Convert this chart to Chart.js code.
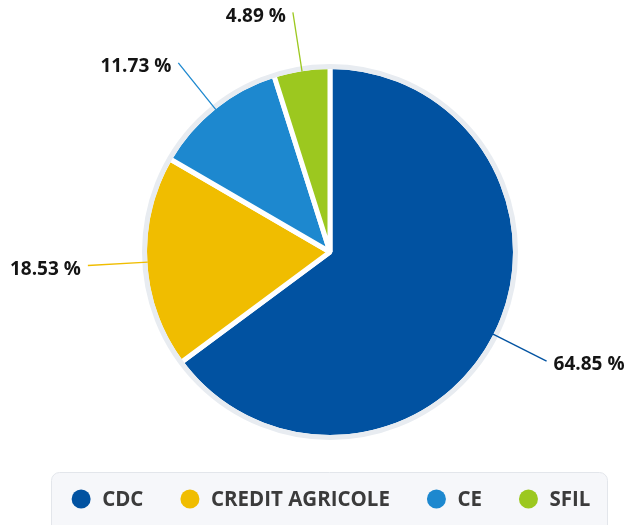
<!DOCTYPE html>
<html>
<head>
<meta charset="utf-8">
<script src="https://cdn.jsdelivr.net/npm/chart.js@4.4.1/dist/chart.umd.min.js"></script>
<style>
  html, body { margin: 0; padding: 0; background: #ffffff; }
  #wrap { width: 633px; height: 525px; position: relative; }
</style>
</head>
<body>
<div id="wrap"><canvas id="c" width="633" height="525"></canvas></div>
<script>
const categories = ['CDC', 'CREDIT AGRICOLE', 'CE', 'SFIL'];
const shares = [64.85, 18.53, 11.73, 4.89];
const shareLabels = ['64.85 %', '18.53 %', '11.73 %', '4.89 %'];
const sliceColors = ['#0152a1', '#f0bd00', '#1d88cf', '#9cc81f'];

const labelFont = 'bold 19px "Open Sans", sans-serif';
const legendFont = 'bold 20.5px "Open Sans", sans-serif';

const haloPlugin = {
  id: 'halo',
  afterDatasetsDraw(chart) {
    const meta = chart.getDatasetMeta(0);
    const a = meta.data[0];
    if (!a) return;
    const ctx = chart.ctx;
    ctx.save();
    ctx.beginPath();
    ctx.arc(a.x, a.y, a.outerRadius, 0, Math.PI * 2);
    ctx.lineWidth = 5;
    ctx.strokeStyle = '#e8ecf1';
    ctx.stroke();
    ctx.restore();
  }
};

const labelPlugin = {
  id: 'outLabels',
  afterDraw(chart) {
    const ctx = chart.ctx;
    const meta = chart.getDatasetMeta(0);
    ctx.save();
    meta.data.forEach((arc, i) => {
      const mid = (arc.startAngle + arc.endAngle) / 2;
      const cos = Math.cos(mid), sin = Math.sin(mid);
      const r0 = arc.outerRadius - 3;
      const r1 = arc.outerRadius + 57;
      const x0 = arc.x + cos * r0, y0 = arc.y + sin * r0;
      const x1 = arc.x + cos * r1, y1 = arc.y + sin * r1;
      ctx.beginPath();
      ctx.moveTo(x0, y0);
      ctx.lineTo(x1, y1);
      ctx.lineWidth = 1.3;
      ctx.strokeStyle = sliceColors[i];
      ctx.stroke();
      ctx.font = labelFont;
      ctx.fillStyle = '#141414';
      ctx.textBaseline = 'middle';
      const right = cos >= 0;
      ctx.textAlign = right ? 'left' : 'right';
      ctx.fillText(shareLabels[i], x1 + (right ? 7 : -7), y1 + 4);
    });
    ctx.restore();
  }
};

const legendPlugin = {
  id: 'boxLegend',
  afterDraw(chart) {
    const ctx = chart.ctx;
    ctx.save();
    const bx = 51.5, by = 472.5, bw = 556, bh = 70, br = 8;
    ctx.beginPath();
    ctx.roundRect(bx, by, bw, bh, br);
    ctx.fillStyle = '#f6f7fa';
    ctx.fill();
    ctx.lineWidth = 1;
    ctx.strokeStyle = '#e3e6eb';
    ctx.stroke();
    ctx.font = legendFont;
    const rad = 9.5, gapText = 11.5, gapItem = 37;
    const widths = categories.map(t => ctx.measureText(t).width);
    let total = 0;
    widths.forEach((w, i) => { total += rad * 2 + gapText + w + (i < widths.length - 1 ? gapItem : 0); });
    let x = 331 - total / 2;
    const cy = 499;
    ctx.textBaseline = 'middle';
    ctx.textAlign = 'left';
    categories.forEach((t, i) => {
      ctx.beginPath();
      ctx.arc(x + rad, cy, rad, 0, Math.PI * 2);
      ctx.fillStyle = sliceColors[i];
      ctx.fill();
      ctx.fillStyle = '#3b3b3b';
      ctx.fillText(t, x + rad * 2 + gapText, cy + 1);
      x += rad * 2 + gapText + widths[i] + gapItem;
    });
    ctx.restore();
  }
};

new Chart(document.getElementById('c'), {
  type: 'pie',
  data: {
    labels: categories,
    datasets: [{
      data: shares,
      backgroundColor: sliceColors,
      borderColor: '#ffffff',
      borderWidth: 5,
      hoverOffset: 0
    }]
  },
  options: {
    responsive: false,
    animation: false,
    layout: { padding: { left: 142, right: 115, top: 64, bottom: 85 } },
    plugins: {
      legend: { display: false },
      tooltip: { enabled: false }
    }
  },
  plugins: [haloPlugin, labelPlugin, legendPlugin]
});
</script>
</body>
</html>
